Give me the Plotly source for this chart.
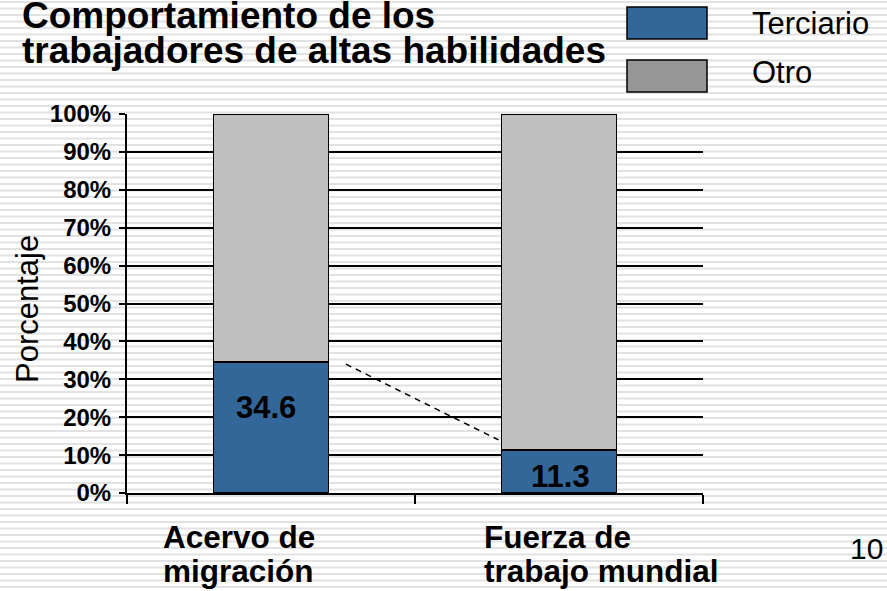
import plotly.graph_objects as go

categories = ["Acervo de migración", "Fuerza de trabajo mundial"]
cat_lines = [["Acervo de", "migración"], ["Fuerza de", "trabajo mundial"]]
terciario = [34.6, 11.3]
otro = [65.4, 88.7]
label_y = [22.6, 4.4]
title_lines = ["Comportamiento de los", "trabajadores de altas habilidades"]
y_ticks = list(range(0, 101, 10))
y_ticklabels = [f"{v}%" for v in y_ticks]
page_number = "10"

FONT = "Liberation Sans, Arial, sans-serif"
BLUE = "#336699"
GRAY_BAR = "#C0C0C0"
GRAY_LEG = "#969696"

fig = go.Figure()
fig.add_trace(go.Bar(x=categories, y=terciario, name="Terciario", width=0.4,
                     marker=dict(color=BLUE, line=dict(color="black", width=1.5)),
                     showlegend=False))
fig.add_trace(go.Bar(x=categories, y=otro, name="Otro", width=0.4,
                     marker=dict(color=GRAY_BAR, line=dict(color="black", width=1.5)),
                     showlegend=False))

def px(xp):
    return (xp - 127) / 576
def py(yp):
    return (493 - yp) / 379

shapes = []
# striped slide background
y = 2.0
while y < 591:
    shapes.append(dict(type="line", xref="paper", yref="paper",
                       x0=px(0), x1=px(887), y0=py(y), y1=py(y),
                       line=dict(color="#E2E2E2", width=2), layer="below"))
    y += 6.5

# dashed connector
shapes.append(dict(type="line", xref="x", yref="y", x0=0.26, y0=34.0, x1=0.79, y1=14.0,
                   line=dict(color="black", width=1.5, dash="6px,5px")))

# custom legend boxes
shapes.append(dict(type="rect", xref="paper", yref="paper", x0=px(627), x1=px(707),
                   y0=py(39), y1=py(7), fillcolor=BLUE, line=dict(color="black", width=1.5)))
shapes.append(dict(type="rect", xref="paper", yref="paper", x0=px(627), x1=px(707),
                   y0=py(92), y1=py(60), fillcolor=GRAY_LEG, line=dict(color="black", width=1.5)))

def bfont(size):
    return dict(family=FONT, size=size, color="black", weight="bold")
def nfont(size):
    return dict(family=FONT, size=size, color="black")

annotations = []
# title lines
annotations.append(dict(xref="paper", yref="paper", x=px(20), y=py(16), xanchor="left", yanchor="middle",
                        text=title_lines[0], showarrow=False, font=bfont(37)))
annotations.append(dict(xref="paper", yref="paper", x=px(20), y=py(51), xanchor="left", yanchor="middle",
                        text=title_lines[1], showarrow=False, font=bfont(37)))
# legend text
annotations.append(dict(xref="paper", yref="paper", x=px(750), y=py(23), xanchor="left", yanchor="middle",
                        text="Terciario", showarrow=False, font=nfont(31)))
annotations.append(dict(xref="paper", yref="paper", x=px(750), y=py(73), xanchor="left", yanchor="middle",
                        text="Otro", showarrow=False, font=nfont(31)))
# data labels
for c, v, ly, xs in zip(categories, terciario, label_y, [-5, 1]):
    annotations.append(dict(x=c, y=ly, xref="x", yref="y", text=f"{v}", showarrow=False,
                            xshift=xs, font=bfont(31)))
# category labels (two lines each, left aligned)
xshifts = [-110, -77]
for c, lines, xs in zip(categories, cat_lines, xshifts):
    for i, ln in enumerate(lines):
        annotations.append(dict(xref="x", yref="paper", x=c, y=py(537 + 34*i), xanchor="left",
                                yanchor="middle", xshift=xs, text=ln, showarrow=False,
                                font=bfont(31.5)))
# y axis title
annotations.append(dict(xref="paper", yref="paper", x=px(27), y=py(309), textangle=-90,
                        text="Porcentaje", showarrow=False, xanchor="center", yanchor="middle",
                        font=nfont(31)))
# page number
annotations.append(dict(xref="paper", yref="paper", x=px(848), y=py(548), xanchor="left", yanchor="middle",
                        text=page_number, showarrow=False, font=nfont(30)))

fig.update_layout(
    barmode="stack",
    width=887, height=591,
    margin=dict(l=127, r=184, t=114, b=98, pad=0, autoexpand=False),
    paper_bgcolor="white",
    plot_bgcolor="rgba(0,0,0,0)",
    showlegend=False,
    shapes=shapes,
    annotations=annotations,
    xaxis=dict(showticklabels=False, showline=True, linecolor="black", linewidth=2,
               ticks="outside", tickson="boundaries", ticklen=9, tickwidth=1.5, tickcolor="black",
               showgrid=False, range=[-0.5, 1.5]),
    yaxis=dict(range=[0, 100], tickvals=y_ticks, ticktext=y_ticklabels,
               showline=True, linecolor="black", linewidth=2,
               ticks="outside", ticklen=6, tickwidth=1.5, tickcolor="black",
               showgrid=True, gridcolor="black", gridwidth=1.5, zeroline=False,
               tickfont=bfont(24), ticklabelstandoff=3),
)

fig.write_html("out.html", config={"displayModeBar": False},
               post_script="document.body.style.margin='0px';document.body.style.overflow='hidden';")
